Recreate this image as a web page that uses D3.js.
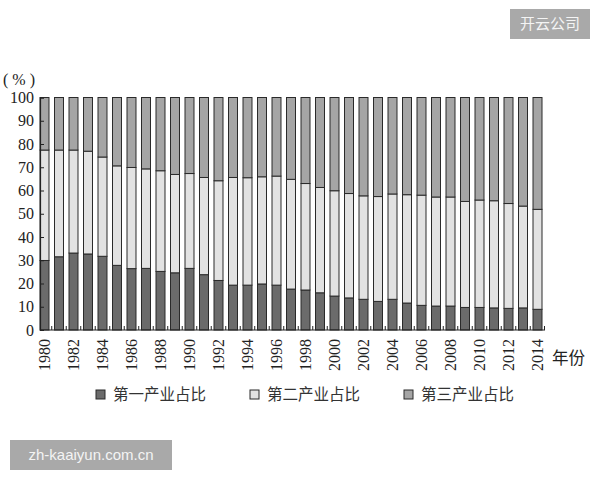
<!DOCTYPE html>
<html>
<head>
<meta charset="utf-8">
<script src="https://cdn.jsdelivr.net/npm/d3@7"></script>
<style>
  body { margin: 0; background: #fff; }
  svg text { font-family: "Liberation Serif", "DejaVu Serif", serif; }
  .cjk { font-family: "Noto Sans CJK SC", sans-serif; }
</style>
</head>
<body>
<svg id="svg" width="600" height="480"></svg>
<script>
// years and shares (%)
var years = d3.range(1980, 2015);
var primary = [29.9, 31.5, 33.1, 32.7, 31.7, 27.8, 26.4, 26.5, 25.2, 24.6,
  26.5, 23.8, 21.3, 19.3, 19.3, 19.8, 19.3, 17.6, 17.2, 16.0,
  14.6, 13.8, 13.2, 12.3, 13.2, 11.6, 10.6, 10.3, 10.3, 9.7,
  9.7, 9.5, 9.3, 9.5, 8.9];
var secondary = [47.5, 45.9, 44.3, 44.2, 42.7, 42.8, 43.5, 42.8, 43.3, 42.3,
  40.8, 41.8, 42.9, 46.3, 46.2, 46.1, 46.9, 47.2, 45.8, 45.3,
  45.3, 44.9, 44.5, 45.1, 45.3, 46.6, 47.4, 46.9, 46.9, 45.6,
  46.2, 46.1, 45.1, 43.8, 43.0];
var tertiary = primary.map(function (p, i) { return +(100 - p - secondary[i]).toFixed(1); });
var seriesNames = ["第一产业占比", "第二产业占比", "第三产业占比"];
var yTicks = d3.range(0, 101, 10);
var xLabelYears = d3.range(1980, 2015, 2);

var colors = ["#6b6b6b", "#e2e2e2", "#a5a5a5"];

var svg = d3.select("#svg");
var plotLeft = 40, plotRight = 542, plotTop = 97.5, plotBottom = 330;

var data = years.map(function (y, i) {
  return {year: y, p: primary[i], s: secondary[i], t: tertiary[i]};
});
var stack = d3.stack().keys(["p", "s", "t"]);
var layers = stack(data);

var x = d3.scaleBand().domain(years).range([plotLeft, plotRight]).paddingInner(0.38).paddingOuter(0);
var y = d3.scaleLinear().domain([0, 100]).range([plotBottom, plotTop]);

// bars
svg.append("g")
  .selectAll("g")
  .data(layers)
  .enter()
  .append("g")
  .attr("fill", function (d, i) { return colors[i]; })
  .selectAll("rect")
  .data(function (d) { return d; })
  .enter()
  .append("rect")
  .attr("x", function (d) { return x(d.data.year); })
  .attr("y", function (d) { return y(d[1]); })
  .attr("width", x.bandwidth())
  .attr("height", function (d) { return y(d[0]) - y(d[1]); })
  .attr("stroke", "#2a2a2a")
  .attr("stroke-width", 1);

// y axis
var yAxis = svg.append("g")
  .attr("transform", "translate(" + plotLeft + ",0)")
  .call(d3.axisRight(y).tickValues(yTicks).tickSize(4).tickFormat(""));
yAxis.select(".domain").attr("stroke", "#222").attr("stroke-width", 1.2);
yAxis.selectAll(".tick line").attr("stroke", "#222");

svg.append("g")
  .selectAll("text")
  .data(yTicks)
  .enter()
  .append("text")
  .attr("x", 34)
  .attr("y", function (d) { return y(d); })
  .attr("dy", "0.35em")
  .attr("text-anchor", "end")
  .attr("font-size", 16)
  .attr("fill", "#222")
  .text(function (d) { return d; });

svg.append("text")
  .attr("x", 3)
  .attr("y", 85)
  .attr("font-size", 16)
  .attr("fill", "#222")
  .attr("xml:space", "preserve")
  .text("( % )");

// x axis
svg.append("line")
  .attr("x1", plotLeft).attr("x2", plotRight + 3)
  .attr("y1", plotBottom).attr("y2", plotBottom)
  .attr("stroke", "#222").attr("stroke-width", 1.2);

var step = x.step();
var gapTicks = years.map(function (yr) { return x(yr) + x.bandwidth() + (step - x.bandwidth()) / 2; });
svg.append("g")
  .selectAll("line")
  .data(gapTicks)
  .enter()
  .append("line")
  .attr("x1", function (d) { return Math.min(d, plotRight + 2.5); })
  .attr("x2", function (d) { return Math.min(d, plotRight + 2.5); })
  .attr("y1", plotBottom)
  .attr("y2", plotBottom - 4)
  .attr("stroke", "#222");

svg.append("g")
  .selectAll("text")
  .data(xLabelYears)
  .enter()
  .append("text")
  .attr("transform", function (d) {
    return "translate(" + (x(d) + x.bandwidth() / 2) + "," + (plotBottom + 9) + ") rotate(-90)";
  })
  .attr("dy", "0.35em")
  .attr("text-anchor", "end")
  .attr("font-size", 16)
  .attr("fill", "#222")
  .text(function (d) { return d; });

svg.append("text")
  .attr("class", "cjk")
  .attr("x", 552)
  .attr("y", 364)
  .attr("font-size", 16.5)
  .attr("fill", "#222")
  .text("年份");

// legend
var legendX = [96, 250, 404];
var legend = svg.append("g")
  .selectAll("g")
  .data(seriesNames)
  .enter()
  .append("g")
  .attr("transform", function (d, i) { return "translate(" + legendX[i] + ",395)"; });

legend.append("rect")
  .attr("x", 0)
  .attr("y", -5)
  .attr("width", 9)
  .attr("height", 9)
  .attr("fill", function (d, i) { return colors[i]; })
  .attr("stroke", "#2a2a2a");

legend.append("text")
  .attr("class", "cjk")
  .attr("x", 17)
  .attr("dy", "0.35em")
  .attr("font-size", 15.5)
  .attr("fill", "#333")
  .text(function (d) { return d; });

// watermarks
svg.append("rect")
  .attr("x", 510).attr("y", 9).attr("width", 80).attr("height", 30)
  .attr("fill", "#a9a9a9");
svg.append("text")
  .attr("class", "cjk")
  .attr("x", 550).attr("y", 24)
  .attr("dy", "0.35em")
  .attr("text-anchor", "middle")
  .attr("font-size", 15)
  .attr("fill", "#f4f4f4")
  .text("开云公司");

svg.append("rect")
  .attr("x", 10).attr("y", 440).attr("width", 162).attr("height", 30)
  .attr("fill", "#a9a9a9");
svg.append("text")
  .attr("x", 91).attr("y", 455)
  .attr("dy", "0.35em")
  .attr("text-anchor", "middle")
  .attr("font-size", 15)
  .attr("style", "font-family: 'Liberation Sans', Arial, sans-serif")
  .attr("fill", "#f4f4f4")
  .text("zh-kaaiyun.com.cn");
</script>
</body>
</html>
